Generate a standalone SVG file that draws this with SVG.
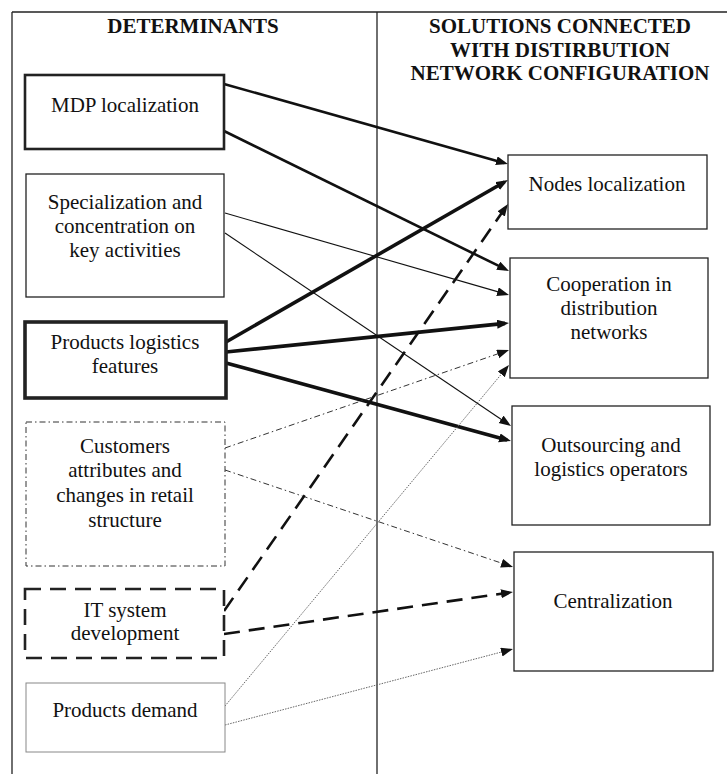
<svg xmlns="http://www.w3.org/2000/svg" width="727" height="774" viewBox="0 0 727 774">
<style>
text{font-family:"Liberation Serif",Tinos,"Times New Roman","DejaVu Serif",serif;font-size:21px;fill:#111;text-anchor:middle}
.h{font-weight:bold}
.frame{stroke:#222;stroke-width:1.3;fill:none}
.box{fill:#fff;stroke:#222;stroke-width:1.3}
.thick{stroke-width:2.6}
.vthick{stroke-width:3.6}
.dashdot{stroke:#333;stroke-width:1;stroke-dasharray:6 3 1.5 3}
.dashbox{stroke-width:2.6;stroke-dasharray:16 9}
.grey{stroke:#888;stroke-width:1}
.c{fill:none;stroke:#111}
.c1{stroke-width:2.6}
.c2{stroke-width:1.1}
.c3{stroke-width:3.6}
.c4{stroke:#333;stroke-width:1;stroke-dasharray:6 3 1.5 3}
.c5{stroke-width:2.6;stroke-dasharray:16 9}
.c6{stroke:#666;stroke-width:1;stroke-dasharray:1.5 1.2}
</style>
<defs>
<marker id="ah" markerUnits="userSpaceOnUse" markerWidth="12" markerHeight="10" refX="8" refY="4.5" orient="auto">
<path d="M0,0 L12,4.5 L0,9 z" fill="#111"/>
</marker>
</defs>
<rect width="727" height="774" fill="#fff"/>
<g id="frame">
<line class="frame" x1="12" y1="12" x2="727" y2="12"/>
<line class="frame" x1="12" y1="12" x2="12" y2="774"/>
<line class="frame" x1="377" y1="12" x2="377" y2="774"/>
<text class="h" x="193" y="33">DETERMINANTS</text>
<text class="h" x="560" y="33">SOLUTIONS CONNECTED</text>
<text class="h" x="560" y="57">WITH DISTIRBUTION</text>
<text class="h" x="560" y="80">NETWORK CONFIGURATION</text>
</g>
<g id="connectors">
<line class="c c1" x1="224" y1="84" x2="504.1" y2="162.9" marker-end="url(#ah)"/>
<line class="c c1" x1="224" y1="131" x2="505.4" y2="269.2" marker-end="url(#ah)"/>
<line class="c c2" x1="225" y1="213" x2="505.2" y2="293.9" marker-end="url(#ah)"/>
<line class="c c2" x1="225" y1="233" x2="507.7" y2="423.8" marker-end="url(#ah)"/>
<line class="c c3" x1="226" y1="342" x2="504.5" y2="182" marker-end="url(#ah)"/>
<line class="c c3" x1="226" y1="352" x2="505" y2="323.4" marker-end="url(#ah)"/>
<line class="c c3" x1="226" y1="363" x2="507.1" y2="439.9" marker-end="url(#ah)"/>
<line class="c c4" x1="225" y1="448" x2="505.2" y2="351.3" marker-end="url(#ah)"/>
<line class="c c4" x1="225" y1="470" x2="509.2" y2="565.7" marker-end="url(#ah)"/>
<line class="c c5" x1="224" y1="611" x2="505.7" y2="207.3" marker-end="url(#ah)"/>
<line class="c c5" x1="224" y1="634" x2="509" y2="592.6" marker-end="url(#ah)"/>
<line class="c c6" x1="225" y1="706" x2="506.4" y2="368.1" marker-end="url(#ah)"/>
<line class="c c6" x1="225" y1="725" x2="509.1" y2="650" marker-end="url(#ah)"/>
</g>
<g id="mdp">
<rect class="box thick" x="25" y="75" width="199" height="74"/>
<text x="125" y="112">MDP localization</text>
</g>
<g id="specialization">
<rect class="box" x="26" y="174" width="198" height="123"/>
<text x="125" y="209">Specialization and</text>
<text x="125" y="233">concentration on</text>
<text x="125" y="257">key activities</text>
</g>
<g id="products-logistics">
<rect class="box vthick" x="25" y="322" width="201" height="76"/>
<text x="125" y="349">Products logistics</text>
<text x="125" y="373">features</text>
</g>
<g id="customers">
<rect class="box dashdot" x="26" y="422" width="199" height="144"/>
<text x="125" y="453">Customers</text>
<text x="125" y="477">attributes and</text>
<text x="125" y="502">changes in retail</text>
<text x="125" y="527">structure</text>
</g>
<g id="it-system">
<rect class="box dashbox" x="25" y="589" width="199" height="69"/>
<text x="125" y="617">IT system</text>
<text x="125" y="640">development</text>
</g>
<g id="products-demand">
<rect class="box grey" x="26" y="683" width="199" height="69"/>
<text x="125" y="717">Products demand</text>
</g>
<g id="nodes">
<rect class="box" x="508" y="155" width="199" height="74"/>
<text x="607" y="191">Nodes localization</text>
</g>
<g id="cooperation">
<rect class="box" x="510" y="258" width="198" height="120"/>
<text x="609" y="291">Cooperation in</text>
<text x="609" y="315">distribution</text>
<text x="609" y="339">networks</text>
</g>
<g id="outsourcing">
<rect class="box" x="512" y="406" width="198" height="119"/>
<text x="611" y="452">Outsourcing and</text>
<text x="611" y="476">logistics operators</text>
</g>
<g id="centralization">
<rect class="box" x="514" y="552" width="199" height="119"/>
<text x="613" y="608">Centralization</text>
</g>
</svg>
